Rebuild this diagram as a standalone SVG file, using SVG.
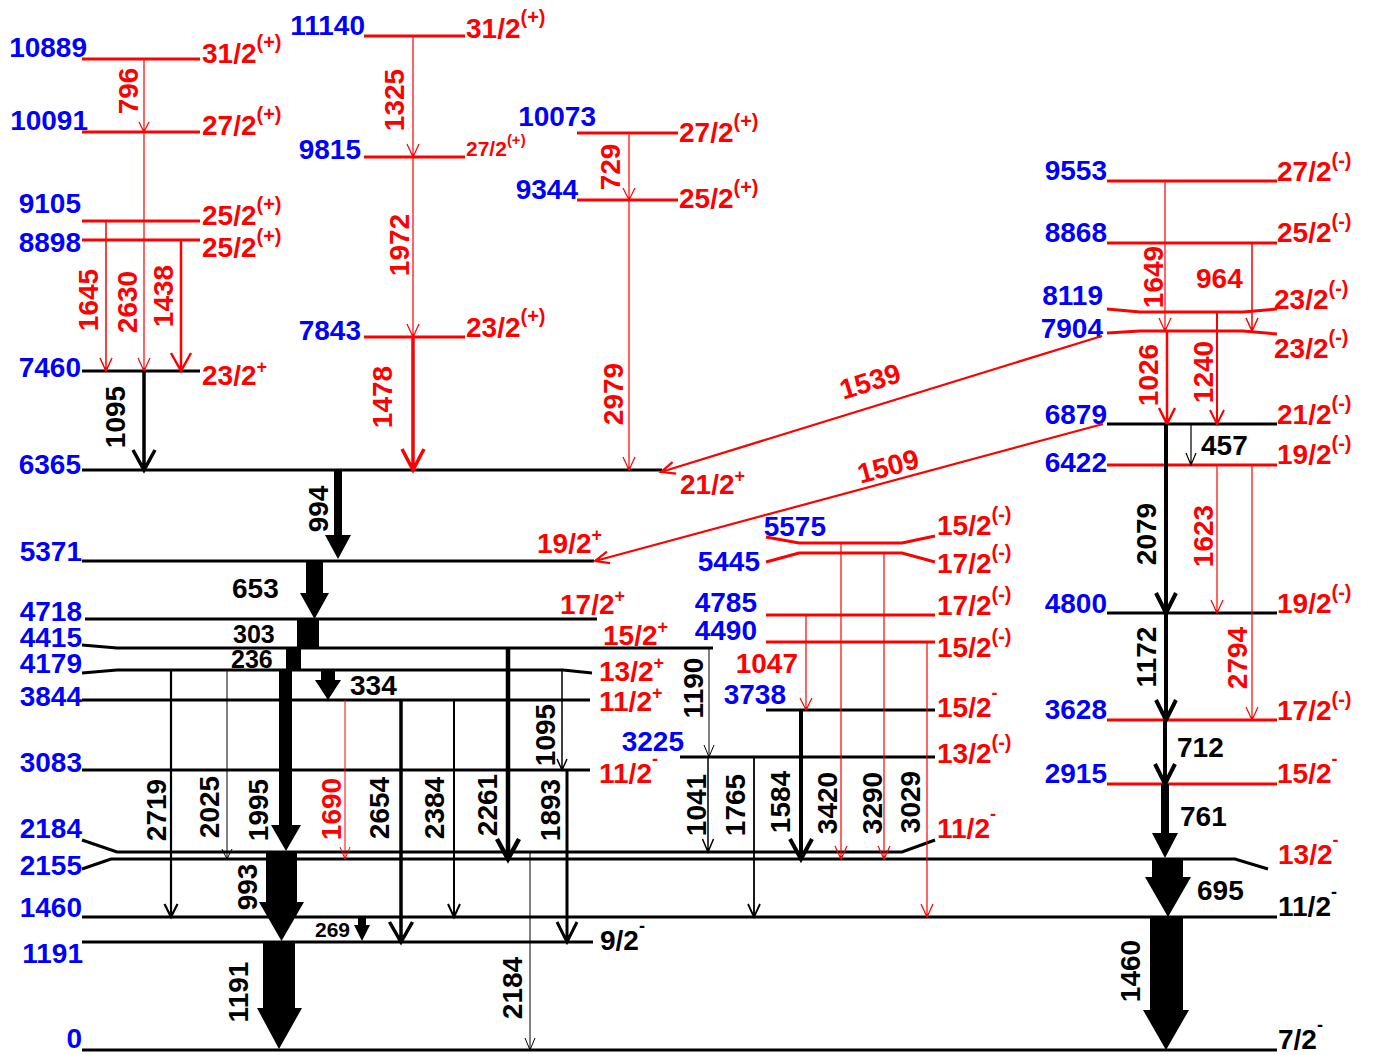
<svg xmlns="http://www.w3.org/2000/svg" width="1380" height="1055" viewBox="0 0 1380 1055">
<style>
text{font-family:"Liberation Sans",Arial,Helvetica,sans-serif;font-weight:bold;font-size:28px}
.e{fill:#0000ff;text-anchor:end}
.sr{fill:#ff0000}
.sk{fill:#000}
.lr{stroke:#ff0000;stroke-width:3;fill:none}
.lk{stroke:#000;stroke-width:3;fill:none}
.ar{stroke:#ff0000;fill:none;stroke-width:1.2}
.ak{stroke:#000;fill:none;stroke-width:1.2}
.fk{fill:#000;stroke:none}
.tr{fill:#ff0000;text-anchor:middle}
.tk{fill:#000;text-anchor:middle}
.hk{fill:#000}
</style>
<rect width="1380" height="1055" fill="#fff"/>
<g id="levels">
<g id="L10889"><path class="lr" d="M82,59H200"/><text class="e" x="87" y="57">10889</text><text class="sr" x="202" y="63">31/2<tspan font-size="20" dy="-14">(+)</tspan></text></g>
<g id="L10091"><path class="lr" d="M82,132H200"/><text class="e" x="88" y="130">10091</text><text class="sr" x="202" y="135">27/2<tspan font-size="20" dy="-14">(+)</tspan></text></g>
<g id="L9105"><path class="lr" d="M82,221H200"/><text class="e" x="81" y="213">9105</text><text class="sr" x="202" y="225">25/2<tspan font-size="20" dy="-14">(+)</tspan></text></g>
<g id="L8898"><path class="lr" d="M82,240H200"/><text class="e" x="81" y="252">8898</text><text class="sr" x="202" y="257">25/2<tspan font-size="20" dy="-14">(+)</tspan></text></g>
<g id="L7460"><path class="lk" d="M82,371H200"/><text class="e" x="81" y="377">7460</text><text class="sr" x="202" y="385">23/2<tspan font-size="18" dy="-12">+</tspan></text></g>
<g id="L6365"><path class="lk" d="M82,470H662"/><text class="e" x="81" y="474">6365</text><text class="sr" x="680" y="494">21/2<tspan font-size="18" dy="-12">+</tspan></text></g>
<g id="L5371"><path class="lk" d="M82,561H594"/><text class="e" x="82" y="561">5371</text><text class="sr" x="537" y="553">19/2<tspan font-size="18" dy="-12">+</tspan></text></g>
<g id="L4718"><path class="lk" d="M85,619H597"/><text class="e" x="82" y="621">4718</text><text class="sr" x="560" y="614">17/2<tspan font-size="18" dy="-12">+</tspan></text></g>
<g id="L4415"><path class="lk" d="M82,645L117,648H713"/><text class="e" x="82" y="647">4415</text><text class="sr" x="603" y="645">15/2<tspan font-size="18" dy="-12">+</tspan></text></g>
<g id="L4179"><path class="lk" d="M82,673L117,670H563L592,673"/><text class="e" x="82" y="673">4179</text><text class="sr" x="599" y="681">13/2<tspan font-size="18" dy="-12">+</tspan></text></g>
<g id="L3844"><path class="lk" d="M82,700H590"/><text class="e" x="82" y="706">3844</text><text class="sr" x="599" y="711">11/2<tspan font-size="18" dy="-12">+</tspan></text></g>
<g id="L3083"><path class="lk" d="M82,770H590"/><text class="e" x="82" y="772">3083</text><text class="sr" x="599" y="783">11/2<tspan font-size="18" dy="-18">-</tspan></text></g>
<g id="L2184"><path class="lk" d="M82,840L117,852H902L935,840"/><text class="e" x="82" y="838">2184</text><text class="sr" x="937" y="838">11/2<tspan font-size="18" dy="-18">-</tspan></text></g>
<g id="L2155"><path class="lk" d="M82,869L111,859H1235L1268,869"/><text class="e" x="82" y="875">2155</text><text class="sr" x="1278" y="864">13/2<tspan font-size="18" dy="-18">-</tspan></text></g>
<g id="L1460"><path class="lk" d="M82,917H1277"/><text class="e" x="82" y="917">1460</text><text class="sk" x="1278" y="916">11/2<tspan font-size="18" dy="-18">-</tspan></text></g>
<g id="L1191"><path class="lk" d="M82,942H593"/><text class="e" x="83" y="963">1191</text><text class="sk" x="600" y="950">9/2<tspan font-size="18" dy="-18">-</tspan></text></g>
<g id="L0"><path class="lk" d="M82,1050H1277"/><text class="e" x="82" y="1048">0</text><text class="sk" x="1278" y="1049">7/2<tspan font-size="18" dy="-18">-</tspan></text></g>
<g id="L11140"><path class="lr" d="M364,36H465"/><text class="e" x="365" y="35">11140</text><text class="sr" x="466" y="38">31/2<tspan font-size="20" dy="-14">(+)</tspan></text></g>
<g id="L9815"><path class="lr" d="M364,157H465"/><text class="e" x="361" y="159">9815</text><text class="sr" x="466" y="156" style="font-size:21px">27/2<tspan font-size="15" dy="-11">(+)</tspan></text></g>
<g id="L7843"><path class="lr" d="M364,337H465"/><text class="e" x="361" y="340">7843</text><text class="sr" x="466" y="337">23/2<tspan font-size="20" dy="-14">(+)</tspan></text></g>
<g id="L10073"><path class="lr" d="M577,133H678"/><text class="e" x="596" y="126">10073</text><text class="sr" x="679" y="142">27/2<tspan font-size="20" dy="-14">(+)</tspan></text></g>
<g id="L9344"><path class="lr" d="M577,200H678"/><text class="e" x="578" y="199">9344</text><text class="sr" x="679" y="208">25/2<tspan font-size="20" dy="-14">(+)</tspan></text></g>
<g id="L5575"><path class="lr" d="M766,537L799,543H902L935,536"/><text class="e" x="826" y="536">5575</text><text class="sr" x="937" y="535">15/2<tspan font-size="20" dy="-14">(-)</tspan></text></g>
<g id="L5445"><path class="lr" d="M766,562L799,553H902L935,562"/><text class="e" x="760" y="571">5445</text><text class="sr" x="937" y="573">17/2<tspan font-size="20" dy="-14">(-)</tspan></text></g>
<g id="L4785"><path class="lr" d="M766,615H935"/><text class="e" x="757" y="612">4785</text><text class="sr" x="937" y="615">17/2<tspan font-size="20" dy="-14">(-)</tspan></text></g>
<g id="L4490"><path class="lr" d="M766,642H935"/><text class="e" x="757" y="640">4490</text><text class="sr" x="937" y="657">15/2<tspan font-size="20" dy="-14">(-)</tspan></text></g>
<g id="L3738"><path class="lk" d="M766,710H935"/><text class="e" x="786" y="704">3738</text><text class="sr" x="937" y="717">15/2<tspan font-size="18" dy="-18">-</tspan></text></g>
<g id="L3225"><path class="lk" d="M680,757H935"/><text class="e" x="684" y="751">3225</text><text class="sr" x="937" y="763">13/2<tspan font-size="20" dy="-14">(-)</tspan></text></g>
<g id="L9553"><path class="lr" d="M1107,181H1277"/><text class="e" x="1107" y="180">9553</text><text class="sr" x="1277" y="181">27/2<tspan font-size="20" dy="-14">(-)</tspan></text></g>
<g id="L8868"><path class="lr" d="M1107,243H1277"/><text class="e" x="1107" y="242">8868</text><text class="sr" x="1277" y="242">25/2<tspan font-size="20" dy="-14">(-)</tspan></text></g>
<g id="L8119"><path class="lr" d="M1107,309L1140,312H1243L1277,309"/><text class="e" x="1103" y="305">8119</text><text class="sr" x="1274" y="309">23/2<tspan font-size="20" dy="-14">(-)</tspan></text></g>
<g id="L7904"><path class="lr" d="M1107,333L1140,331H1243L1277,334"/><text class="e" x="1103" y="338">7904</text><text class="sr" x="1274" y="358">23/2<tspan font-size="20" dy="-14">(-)</tspan></text></g>
<g id="L6879"><path class="lk" d="M1107,424H1277"/><text class="e" x="1107" y="424">6879</text><text class="sr" x="1277" y="424">21/2<tspan font-size="20" dy="-14">(-)</tspan></text></g>
<g id="L6422"><path class="lr" d="M1107,465H1277"/><text class="e" x="1107" y="472">6422</text><text class="sr" x="1277" y="464">19/2<tspan font-size="20" dy="-14">(-)</tspan></text></g>
<g id="L4800"><path class="lk" d="M1107,613H1277"/><text class="e" x="1107" y="613">4800</text><text class="sr" x="1277" y="613">19/2<tspan font-size="20" dy="-14">(-)</tspan></text></g>
<g id="L3628"><path class="lr" d="M1107,720H1277"/><text class="e" x="1107" y="719">3628</text><text class="sr" x="1277" y="720">17/2<tspan font-size="20" dy="-14">(-)</tspan></text></g>
<g id="L2915"><path class="lr" d="M1107,784H1277"/><text class="e" x="1107" y="783">2915</text><text class="sr" x="1277" y="783">15/2<tspan font-size="18" dy="-18">-</tspan></text></g>
</g>
<g id="connectors">
<path class="ar" d="M144,59V132M139,122L144,132L149,122"/>
<path class="ar" d="M144,132V371M138,358L144,371L150,358"/>
<path class="ar" style="stroke-width:1.5" d="M106,221V371M100,358L106,371L112,358"/>
<path class="ar" style="stroke-width:2.5" d="M181,240V371M171,353L181,371L191,353"/>
<path class="ar" d="M413,36V157M407,144L413,157L419,144"/>
<path class="ar" d="M413,157V337M407,324L413,337L419,324"/>
<path class="ar" style="stroke-width:3.5" d="M413,337V470M402,449L413,470L424,449"/>
<path class="ar" d="M629,133V200M623,188L629,200L635,188"/>
<path class="ar" d="M629,200V470M623,457L629,470L635,457"/>
<path class="ar" style="stroke-width:1" d="M345,700V859M340,847L345,859L350,847"/>
<path class="ar" d="M841,543V859M835,846L841,859L847,846"/>
<path class="ar" d="M884,553V859M878,846L884,859L890,846"/>
<path class="ar" d="M927,642V917M921,904L927,917L933,904"/>
<path class="ar" d="M806,615V710M800,698L806,710L812,698"/>
<path class="ar" d="M1165,181V331M1159,318L1165,331L1171,318"/>
<path class="ar" style="stroke-width:1.5" d="M1252,243V331M1246,318L1252,331L1258,318"/>
<path class="ar" style="stroke-width:2.5" d="M1167,331V424M1159,408L1167,424L1175,408"/>
<path class="ar" style="stroke-width:2" d="M1217,312V424M1210,410L1217,424L1224,410"/>
<path class="ar" d="M1217,465V613M1211,600L1217,613L1223,600"/>
<path class="ar" d="M1252,465V720M1246,707L1252,720L1258,707"/>
<path class="ar" style="stroke-width:2.2" d="M1102,336L661,472M672.6,462.1L661,472L676.2,473.6"/>
<path class="ar" style="stroke-width:2.2" d="M1103,424L595,561M606.9,551.6L595,561L610.1,563.2"/>
<path class="ak" style="stroke-width:3.5" d="M144,371V470M133,450L144,470L155,450"/>
<path class="ak" style="stroke-width:2.2" d="M171,670V917M164.5,904L171,917L177.5,904"/>
<path class="ak" style="stroke-width:1" d="M227,670V859M222,849L227,859L232,849"/>
<path class="ak" style="stroke-width:3.5" d="M401,700V942M389.5,922L401,942L412.5,922"/>
<path class="ak" style="stroke-width:2" d="M454,700V917M448,904L454,917L460,904"/>
<path class="ak" style="stroke-width:4.5" d="M508,648V859M497,839L508,859L519,839"/>
<path class="ak" style="stroke-width:1.5" d="M562,670V770M557,759L562,770L567,759"/>
<path class="ak" style="stroke-width:3" d="M567,770V942M557,922L567,942L577,922"/>
<path class="ak" style="stroke-width:1" d="M530,852V1050M525,1038L530,1050L535,1038"/>
<path class="ak" style="stroke-width:1" d="M709,648V757M704,745L709,757L714,745"/>
<path class="ak" style="stroke-width:1.5" d="M708,757V852M702.5,839L708,852L713.5,839"/>
<path class="ak" style="stroke-width:1.8" d="M754,757V917M748,904L754,917L760,904"/>
<path class="ak" style="stroke-width:4" d="M801,710V859M790,839L801,859L812,839"/>
<path class="ak" d="M1191,424V465M1186,453L1191,465L1196,453"/>
<path class="ak" style="stroke-width:4" d="M1166,424V613M1156,593L1166,613L1176,593"/>
<path class="ak" style="stroke-width:4" d="M1166,613V720M1156,700L1166,720L1176,700"/>
<path class="ak" style="stroke-width:4" d="M1165,720V784M1155,764L1165,784L1175,764"/>
<path class="fk" d="M334,470H342V535H351L338,559L325,535H334Z"/>
<path class="fk" d="M306,561H323V593H329L314.5,619L300,593H306Z"/>
<rect class="fk" x="297" y="620" width="22" height="28"/>
<rect class="fk" x="286" y="648" width="15" height="22"/>
<path class="fk" d="M279,670H292V825H301L286,851L271,825H279Z"/>
<path class="fk" d="M321,671H335V680H341L328,700L315,680H321Z"/>
<path class="fk" d="M266,852H297V902H304L281.5,941L259,902H266Z"/>
<path class="fk" d="M263,942H295V1008H302L279,1049L257,1008H263Z"/>
<path class="fk" d="M358,918H366V925H370L362,941L354,925H358Z"/>
<path class="fk" d="M1161,784H1169V833H1178L1165,858L1152,833H1161Z"/>
<path class="fk" d="M1152,859H1183V877H1191L1168,917L1145,877H1152Z"/>
<path class="fk" d="M1150,917H1183V1010H1189L1166,1050L1143,1010H1150Z"/>
<g id="tlabels">
<text class="tr" transform="translate(138,91) rotate(-90)">796</text>
<text class="tr" transform="translate(98,300) rotate(-90)">1645</text>
<text class="tr" transform="translate(137,302) rotate(-90)">2630</text>
<text class="tr" transform="translate(173,296) rotate(-90)">1438</text>
<text class="tr" transform="translate(404,100) rotate(-90)">1325</text>
<text class="tr" transform="translate(409,245) rotate(-90)">1972</text>
<text class="tr" transform="translate(392,397) rotate(-90)">1478</text>
<text class="tr" transform="translate(620,167) rotate(-90)">729</text>
<text class="tr" transform="translate(623,394) rotate(-90)">2979</text>
<text class="tr" transform="translate(341,809) rotate(-90)">1690</text>
<text class="tr" transform="translate(1163,277) rotate(-90)">1649</text>
<text class="tr" transform="translate(1158,375) rotate(-90)">1026</text>
<text class="tr" transform="translate(1213,372) rotate(-90)">1240</text>
<text class="tr" transform="translate(1213,536) rotate(-90)">1623</text>
<text class="tr" transform="translate(1247,658) rotate(-90)">2794</text>
<text class="sr" x="1196" y="288">964</text>
<text class="sr" x="798" y="673" text-anchor="end">1047</text>
<text class="tr" transform="translate(870,381) rotate(-17.1)" y="10">1539</text>
<text class="tr" transform="translate(888,466) rotate(-15.1)" y="10">1509</text>
<text class="tk" transform="translate(125,417) rotate(-90)">1095</text>
<text class="tk" transform="translate(328,509) rotate(-90)">994</text>
<text class="tk" transform="translate(166,810) rotate(-90)">2719</text>
<text class="tk" transform="translate(219,807) rotate(-90)">2025</text>
<text class="tk" transform="translate(268,810) rotate(-90)">1995</text>
<text class="tk" transform="translate(389,808) rotate(-90)">2654</text>
<text class="tk" transform="translate(444,808) rotate(-90)">2384</text>
<text class="tk" transform="translate(257,887) rotate(-90)">993</text>
<text class="tk" transform="translate(248,992) rotate(-90)">1191</text>
<text class="tk" transform="translate(497,805) rotate(-90)">2261</text>
<text class="tk" transform="translate(555,735) rotate(-90)">1095</text>
<text class="tk" transform="translate(560,810) rotate(-90)">1893</text>
<text class="tk" transform="translate(522,988) rotate(-90)">2184</text>
<text class="tk" transform="translate(703,688) rotate(-90)">1190</text>
<text class="tk" transform="translate(706,805) rotate(-90)">1041</text>
<text class="tk" transform="translate(745,805) rotate(-90)">1765</text>
<text class="tk" transform="translate(790,802) rotate(-90)">1584</text>
<text class="tk" transform="translate(837,803) rotate(-90)">3420</text>
<text class="tk" transform="translate(882,803) rotate(-90)">3290</text>
<text class="tk" transform="translate(920,802) rotate(-90)">3029</text>
<text class="tk" transform="translate(1156,534) rotate(-90)">2079</text>
<text class="tk" transform="translate(1156,657) rotate(-90)">1172</text>
<text class="tk" transform="translate(1140,971) rotate(-90)">1460</text>
<text class="hk" x="232" y="598">653</text>
<text class="hk" x="233" y="643" style="font-size:25px">303</text>
<text class="hk" x="231" y="668" style="font-size:25px">236</text>
<text class="hk" x="350" y="695">334</text>
<text class="hk" x="315" y="937" style="font-size:21px">269</text>
<text class="hk" x="1201" y="455">457</text>
<text class="hk" x="1177" y="757">712</text>
<text class="hk" x="1180" y="826">761</text>
<text class="hk" x="1197" y="900">695</text>
</g>
</g>
</svg>
